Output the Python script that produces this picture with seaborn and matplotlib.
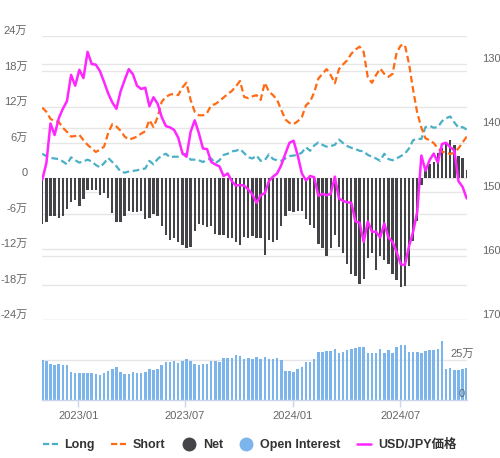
import pandas as pd
import seaborn as sns
import matplotlib.pyplot as plt
import matplotlib.dates as mdates
import matplotlib.transforms as mtransforms
from matplotlib.lines import Line2D

# weekly positions (in 万 contracts) and USD/JPY
long_pos = [4.1, 3.7, 3.4, 3.3, 3.2, 2.8, 2.3, 3.5, 3.0, 2.6,
            2.8, 3.1, 2.8, 2.2, 1.8, 2.5, 3.4, 2.7, 2.0, 1.1,
            0.9, 1.1, 1.2, 1.3, 1.5, 1.6, 2.9, 2.3, 3.2, 3.8,
            4.1, 3.5, 3.6, 3.6, 4.0, 4.1, 3.1, 3.1, 3.0, 2.7,
            3.1, 3.3, 2.5, 3.0, 3.9, 4.1, 4.5, 4.6, 4.9, 4.2,
            3.5, 3.3, 3.8, 2.9, 3.0, 4.0, 3.2, 3.0, 2.9, 3.3,
            3.7, 3.8, 3.9, 4.3, 5.2, 4.6, 5.5, 6.0, 5.6, 5.3,
            5.4, 5.6, 6.5, 5.9, 5.4, 5.1, 4.9, 4.6, 4.5, 3.9,
            3.6, 3.3, 2.9, 4.1, 3.2, 3.0, 3.3, 3.7, 4.1, 5.0,
            6.4, 6.6, 6.6, 8.6, 8.8, 8.5, 8.6, 9.6, 10.1, 10.4,
            9.4, 8.5, 8.6, 8.2]
short_pos = [11.9, 11.2, 10.0, 9.6, 9.5, 8.5, 7.8, 7.0, 7.1, 7.3,
             6.4, 5.6, 5.0, 4.4, 4.8, 5.3, 7.6, 9.1, 8.7, 8.0,
             7.0, 6.5, 6.7, 7.0, 7.5, 7.9, 9.8, 8.6, 10.3, 12.9,
             13.7, 14.1, 14.2, 14.0, 15.3, 16.1, 13.2, 11.2, 10.6, 10.6,
             11.0, 12.3, 12.5, 13.0, 13.6, 14.2, 14.7, 15.5, 16.4, 13.7,
             13.5, 13.8, 14.0, 13.2, 16.1, 14.6, 14.0, 13.2, 11.5, 9.9,
             9.3, 9.1, 9.6, 10.3, 12.3, 12.9, 14.5, 16.8, 17.6, 18.4,
             17.4, 16.0, 18.4, 19.2, 19.9, 21.0, 21.7, 22.2, 21.3, 17.0,
             16.1, 17.4, 18.5, 17.6, 17.1, 17.6, 21.2, 22.4, 22.5, 19.3,
             14.9, 11.0, 8.5, 6.7, 6.4, 5.9, 5.0, 4.45, 4.3, 4.05,
             4.3, 5.0, 6.0, 7.0]
net_pos = [-7.7, -7.4, -6.5, -6.4, -6.7, -6.5, -5.2, -4.0, -3.7, -4.7,
           -3.5, -2.1, -2.1, -2.0, -2.8, -2.6, -3.3, -5.9, -7.4, -7.4,
           -6.5, -5.5, -5.7, -5.7, -5.5, -6.9, -6.7, -6.0, -6.4, -8.1,
           -9.6, -10.4, -10.2, -10.8, -11.3, -11.8, -11.6, -8.9, -7.7, -7.9,
           -8.2, -8.1, -9.4, -9.7, -9.6, -10.1, -10.2, -10.9, -11.3, -9.9,
           -10.2, -9.8, -10.2, -10.2, -13.0, -10.4, -10.9, -10.4, -8.1, -6.4,
           -5.5, -5.7, -5.5, -5.5, -7.0, -7.9, -8.4, -11.1, -11.9, -13.1,
           -11.8, -9.6, -11.6, -12.6, -14.5, -16.2, -16.5, -17.9, -17.0, -13.5,
           -12.6, -15.5, -13.1, -13.8, -14.6, -16.2, -17.3, -18.4, -18.2, -14.8,
           -10.6, -7.2, -1.1, 1.9, 2.4, 2.75, 4.2, 5.0, 5.9, 6.5,
           5.6, 3.7, 3.4, 1.3]
open_interest = [25.0, 24.4, 22.7, 22.1, 22.7, 22.1, 22.1, 17.5, 16.9, 16.9,
                 16.9, 16.9, 16.9, 16.3, 15.6, 16.9, 18.1, 19.4, 20.6, 17.5,
                 16.3, 16.3, 17.5, 16.9, 16.9, 17.5, 19.4, 18.8, 19.4, 21.9,
                 23.8, 23.8, 24.4, 23.1, 24.4, 25.6, 24.4, 22.5, 21.9, 22.5,
                 22.5, 24.4, 24.4, 23.8, 26.3, 26.3, 26.3, 28.1, 27.5, 25.6,
                 26.3, 25.6, 26.9, 25.6, 26.9, 25.6, 25.6, 26.3, 25.0, 18.1,
                 18.1, 17.5, 19.4, 20.6, 23.8, 23.8, 25.6, 30.0, 30.0, 30.6,
                 30.6, 31.9, 29.4, 30.0, 31.3, 31.9, 32.5, 33.1, 33.1, 29.4,
                 29.4, 29.4, 31.9, 29.4, 31.3, 29.4, 33.1, 34.4, 34.4, 30.0,
                 30.0, 30.0, 29.4, 30.6, 31.3, 31.3, 31.9, 36.9, 19.4, 20.0,
                 18.8, 18.8, 19.4, 20.0]
usdjpy = [148.1, 145.5, 139.3, 141.1, 138.5, 137.0, 135.8, 131.7, 133.4, 130.9,
          132.2, 128.1, 130.0, 130.1, 131.1, 132.8, 134.6, 136.0, 137.0, 134.3,
          132.5, 130.8, 131.6, 133.4, 133.9, 133.7, 136.6, 135.2, 136.2, 138.3,
          139.7, 139.9, 140.3, 141.5, 143.9, 144.5, 140.6, 138.8, 140.8, 143.2,
          143.3, 145.3, 145.7, 146.0, 147.5, 147.1, 148.3, 149.0, 148.9, 149.0,
          149.6, 150.4, 151.7, 150.5, 150.2, 148.3, 147.6, 147.1, 145.8, 144.0,
          142.3, 142.0, 144.3, 147.1, 148.2, 147.5, 147.7, 150.6, 150.3, 150.5,
          150.3, 147.6, 151.0, 151.4, 151.6, 151.7, 154.6, 154.8, 157.8, 154.6,
          156.2, 156.2, 157.1, 154.9, 157.1, 157.8, 159.4, 161.3, 161.4, 158.5,
          156.2, 153.1, 144.3, 146.7, 145.0, 144.0, 145.4, 142.5, 142.3, 143.0,
          143.5, 148.3, 149.2, 151.0]

left_ticks = [-24, -18, -12, -6, 0, 6, 12, 18, 24]
right_ticks = [130, 140, 150, 160, 170]
x_ticks = ['2023-01-01', '2023-07-01', '2024-01-01', '2024-07-01']

dates = pd.date_range('2022-11-01', periods=len(net_pos), freq='7D')
df = pd.DataFrame({'date': dates, 'long': long_pos, 'short': short_pos,
                   'net': net_pos, 'oi': open_interest, 'usdjpy': usdjpy})

sns.set_theme(style='white')
plt.rcParams['font.family'] = ['Liberation Sans', 'Noto Sans CJK JP']

GRID = '#e6e6e6'
TXT = '#666666'
AXIS = '#ccd6eb'
C_LONG = '#4bb0c6'
C_SHORT = '#ff6a13'
C_NET = '#434348'
C_OI = '#7cb5ec'
C_JPY = '#ff26ff'

fig = plt.figure(figsize=(5, 4.58), dpi=100)
top_rect = [0.084, 0.3013, 0.85, 0.6201]
lift = mtransforms.ScaledTranslation(0, 6 / 100, fig.dpi_scale_trans)

# background axes just for the right-axis grid lines
ax_bg = fig.add_axes(top_rect, zorder=0)
ax_bg.set_ylim(170, 125.625)
ax_bg.set_yticks(right_ticks)
ax_bg.grid(axis='y', color=GRID, lw=1)
ax_bg.tick_params(left=False, labelleft=False, bottom=False, labelbottom=False)
sns.despine(ax=ax_bg, left=True, bottom=True)

ax = fig.add_axes(top_rect, zorder=1, sharex=ax_bg)
ax.patch.set_visible(False)
ax.bar(df['date'], df['net'], width=4.0, color=C_NET, lw=0, zorder=2)
sns.lineplot(data=df, x='date', y='long', ax=ax, color=C_LONG, lw=1.6, zorder=3)
ax.lines[-1].set_dashes([3, 1.6])
sns.lineplot(data=df, x='date', y='short', ax=ax, color=C_SHORT, lw=1.6, zorder=3)
ax.lines[-1].set_dashes([3, 1.6])
ax.set_ylim(-24, 24)
ax.set_yticks(left_ticks)
ax.set_yticklabels([f'{t}万' if t else '0' for t in left_ticks])
ax.grid(axis='y', color=GRID, lw=1)
ax.grid(axis='x', visible=False)
ax.set_axisbelow(True)
ax.tick_params(axis='y', length=0, pad=10.5, labelsize=8, labelcolor=TXT)
ax.tick_params(axis='x', bottom=False, labelbottom=False)
ax.set_xlabel('')
ax.set_ylabel('')
sns.despine(ax=ax, left=True, bottom=True)
for lab in ax.get_yticklabels():
    lab.set_transform(lab.get_transform() + lift)

ax_px = ax.twinx()
ax_px.set_zorder(2)
sns.lineplot(data=df, x='date', y='usdjpy', ax=ax_px, color=C_JPY, lw=1.8)
ax_px.set_ylim(170, 125.625)
ax_px.set_yticks(right_ticks)
ax_px.grid(False)
ax_px.tick_params(axis='y', length=0, pad=11, labelsize=8, labelcolor=TXT)
ax_px.set_ylabel('')
for s in ax_px.spines.values():
    s.set_visible(False)
for lab in ax_px.get_yticklabels():
    lab.set_transform(lab.get_transform() + lift)

# open interest panel
ax_oi = fig.add_axes([0.084, 0.1266, 0.85, 0.1747], sharex=ax_bg)
ax_oi.bar(df['date'], df['oi'], width=4.3, color=C_OI, lw=0, zorder=2)
ax_oi.set_ylim(0, 50)
ax_oi.set_yticks([25])
ax_oi.grid(axis='y', color=GRID, lw=1)
ax_oi.grid(axis='x', visible=False)
ax_oi.set_axisbelow(True)
ax_oi.tick_params(axis='y', left=False, labelleft=False)
sns.despine(ax=ax_oi, left=True)
ax_oi.spines['bottom'].set_color(AXIS)
ax_oi.spines['bottom'].set_linewidth(1)
lab_tr = mtransforms.blended_transform_factory(ax_oi.transAxes, ax_oi.transData) + lift
ax_oi.text(0.988, 25, '25万', transform=lab_tr, ha='center', va='center',
           fontsize=8, color=TXT)
ax_oi.text(0.988, 0, '0', transform=lab_tr, ha='center', va='center',
           fontsize=8, color=TXT)

ax_oi.set_xticks(pd.to_datetime(x_ticks))
ax_oi.xaxis.set_major_formatter(mdates.DateFormatter('%Y/%m'))
ax_oi.tick_params(axis='x', bottom=True, direction='out', length=5, width=1,
                  color=AXIS, pad=3, labelsize=8, labelcolor=TXT)
ax_bg.set_xlim(dates[0] - pd.Timedelta(days=0.4), dates[-1] + pd.Timedelta(days=0.5))

handles = [
    Line2D([], [], color=C_LONG, lw=1.6, dashes=(2.8, 1.2)),
    Line2D([], [], color=C_SHORT, lw=1.6, dashes=(2.8, 1.2)),
    Line2D([], [], ls='none', marker='o', markersize=9, color=C_NET),
    Line2D([], [], ls='none', marker='o', markersize=9, color=C_OI),
    Line2D([], [], color=C_JPY, lw=1.8),
]
labels = ['Long', 'Short', 'Net', 'Open Interest', 'USD/JPY価格']
fig.legend(handles, labels, loc='center', bbox_to_anchor=(0.5, 0.028), ncol=5,
           frameon=False, prop={'weight': 'bold', 'size': 9}, labelcolor='#333333',
           handlelength=1.15, handletextpad=0.55, columnspacing=1.3)

fig.savefig('out.png', dpi=100)
